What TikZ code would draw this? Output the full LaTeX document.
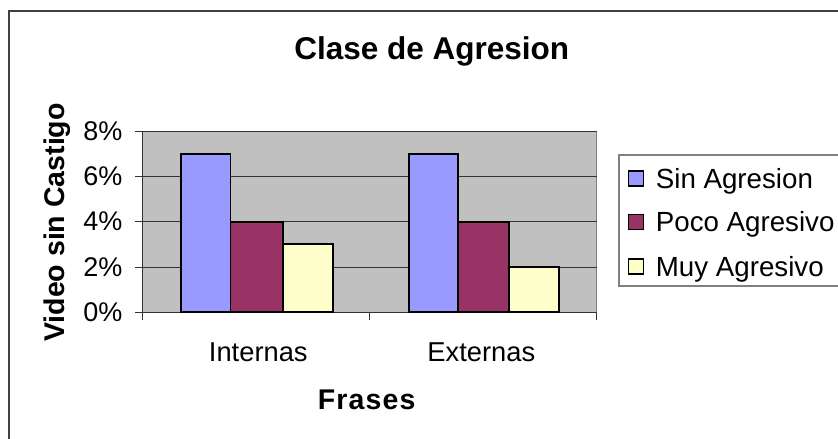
\documentclass[tikz,border=0pt]{standalone}
\usepackage{fontspec}
\setmainfont{Liberation Sans}
\definecolor{plotbg}{HTML}{C0C0C0}
\definecolor{serA}{HTML}{9999FF}
\definecolor{serB}{HTML}{993366}
\definecolor{serC}{HTML}{FFFFCC}
\definecolor{framegray}{HTML}{404040}
\definecolor{bordergray}{HTML}{808080}
\tikzset{
  chartframe/.style={draw=framegray, line width=1.5pt},
  plotarea/.style={fill=plotbg, draw=bordergray, line width=1pt},
  gridline/.style={draw=black!80, line width=1pt},
  axisline/.style={draw=black!80, line width=1pt},
  bar/.style={draw=black, line width=1.8pt},
  legbox/.style={draw=bordergray, line width=1.2pt, fill=white},
  legkey/.style={draw=black, line width=1.5pt, minimum size=15pt, inner sep=0pt},
  ticklab/.style={font=\fontsize{27}{30}\selectfont, inner sep=0pt},
  catlab/.style={font=\fontsize{27.3}{30}\selectfont, inner sep=0pt, anchor=base},
  legtext/.style={font=\fontsize{27.7}{30}\selectfont, inner sep=0pt, anchor=base west},
  titletext/.style={font=\fontsize{31.5}{34}\selectfont\bfseries, inner sep=0pt, anchor=base},
  axtitle/.style={font=\fontsize{28.5}{32}\selectfont\bfseries, inner sep=0pt, anchor=base},
}
\begin{document}
\begin{tikzpicture}[x=1pt,y=-1pt]
\useasboundingbox (0,0) rectangle (838,439);
\clip (0,0) rectangle (838,439);
% outer chart frame (extends beyond the visible area)
\draw[chartframe] (9,11) rectangle (870,470);
% plot area
\path[plotarea] (142.7,131) rectangle (596.7,312.3);
% gridlines
\foreach \yy in {131,176.3,221.6,267} {
  \draw[gridline] (142.7,\yy) -- (596.7,\yy);
}
% axes
\draw[axisline] (142.7,131) -- (142.7,312.3);
\draw[axisline] (142.7,312.3) -- (596.7,312.3);
% y ticks
\foreach \yy in {131,176.3,221.6,267,312.3} {
  \draw[axisline] (135,\yy) -- (142.7,\yy);
}
% x ticks
\foreach \xx in {142.7,369.7,596.7} {
  \draw[axisline] (\xx,312.3) -- (\xx,320);
}
% bars: Internas
\draw[bar, fill=serA] (180.7,312.3) rectangle (230.5,153.7);
\draw[bar, fill=serB] (230.5,312.3) rectangle (282.7,221.6);
\draw[bar, fill=serC] (282.7,312.3) rectangle (332.7,244.3);
% bars: Externas
\draw[bar, fill=serA] (408.7,312.3) rectangle (458.3,153.7);
\draw[bar, fill=serB] (458.3,312.3) rectangle (508.7,221.6);
\draw[bar, fill=serC] (508.7,312.3) rectangle (559,267);
% y tick labels
\node[ticklab, anchor=east] (t8) at (122.5,131) {8\%};
\node[ticklab, anchor=east] (t6) at (122.5,176.3) {6\%};
\node[ticklab, anchor=east] (t4) at (122.5,221.6) {4\%};
\node[ticklab, anchor=east] (t2) at (122.5,267) {2\%};
\node[ticklab, anchor=east] (t0) at (122.5,312.3) {0\%};
% category labels
\node[catlab] (cint) at (258.3,361.7) {Internas};
\node[catlab] (cext) at (481.3,361.7) {Externas};
% titles
\node[titletext] (title) at (431.7,59.3) {Clase de Agresion};
\node[axtitle, rotate=90] (ytitle) at (64.3,222.5) {Video sin Castigo};
\node[axtitle] (xtitle) at (366.7,409.3) {\addfontfeature{LetterSpace=4}Frases};
% legend
\path[legbox] (619,155) rectangle (870,286);
\node[legkey, fill=serA] (kA) at (636,178.3) {};
\node[legkey, fill=serB] (kB) at (636,221.9) {};
\node[legkey, fill=serC] (kC) at (636,266.5) {};
\node[legtext] (lA) at (655.7,188.3) {Sin Agresion};
\node[legtext] (lB) at (655.7,231.9) {Poco Agresivo};
\node[legtext] (lC) at (655.7,276) {Muy Agresivo};
\end{tikzpicture}
\end{document}
